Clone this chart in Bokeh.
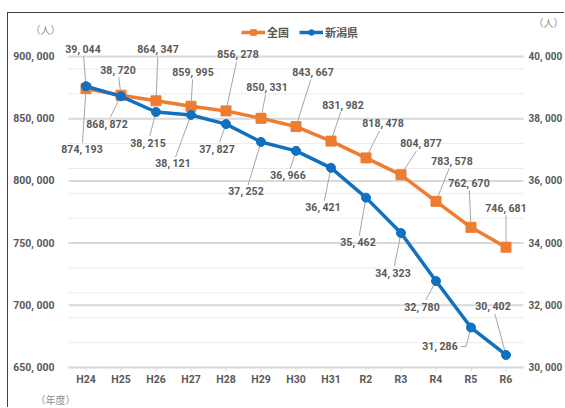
from bokeh.plotting import figure
from bokeh.models import Range1d, Legend, LegendItem, ColumnDataSource
from bokeh.core.properties import value
from bokeh.embed import file_html
from bokeh.resources import INLINE

years = ["H24", "H25", "H26", "H27", "H28", "H29", "H30", "H31", "R2", "R3", "R4", "R5", "R6"]
zenkoku = [874193, 868872, 864347, 859995, 856278, 850331, 843667, 831982,
           818478, 804877, 783578, 762670, 746681]
niigata = [39044, 38720, 38215, 38121, 37827, 37252, 36966, 36421,
           35462, 34323, 32780, 31286, 30402]
left_ticks = [650000, 700000, 750000, 800000, 850000, 900000]
left_minor = [650000 + 20000 * k for k in range(13)]
right_ticks = [30000, 32000, 34000, 36000, 38000, 40000]
series_names = ["全国", "新潟県"]
unit_label = "（人）"
year_label = "（年度）"

# label placement offsets in pixels (right, down) from each point
zen_off = [(-4, 61), (-14, 29), (2, -51), (2, -34), (12, -56), (6, -31), (17, -54),
           (12, -36), (17, -34), (20, -31), (16, -40), (-2, -44), (0, -39)]
nii_off = [(-3, -37), (-3, -26), (-8, 31), (-18, 49), (-9, 25), (-15, 50), (-8, 25),
           (-8, 40), (-8, 45), (-8, 40), (-14, 26), (-31, 19), (-13, -48)]
# optional elbow points of leader lines (pixel offsets from the point)
nii_elbow = {11: (-5, 19)}

FONT = "Roboto"
JFONT = "Noto Sans CJK JP"
GRAY = "#595959"
LGRAY = "#8c8c8c"
ORANGE = "#ED7D31"
BLUE = "#1170C0"

# geometry (canvas pixels)
W, H = 557, 395
PL, PT = 60, 43          # plot area left / top
PW, PH = 455, 311        # plot area size
N = len(years)
L0, L1 = left_ticks[0], left_ticks[-1]
R0, R1 = right_ticks[0], right_ticks[-1]
CW = PW / N              # px per category
LU = (L1 - L0) / PH      # left-axis units per px
RU = (R1 - R0) / PH      # right-axis units per px

xr = Range1d(-0.5 - PL / CW, -0.5 + (W - PL) / CW)
yr = Range1d(L1 - (H - PT) * LU, L1 + PT * LU)
rr = Range1d(R1 - (H - PT) * RU, R1 + PT * RU)

p = figure(width=W, height=H, output_backend="svg", toolbar_location=None,
           x_range=xr, y_range=yr, min_border=0, outline_line_color=None)
p.styles = {"border-top": "1px solid #404040", "border-left": "1px solid #404040",
            "margin-top": "12px", "margin-left": "7px"}
p.extra_y_ranges = {"r": rr}
p.xaxis.visible = False
p.yaxis.visible = False
p.grid.visible = False

X0, X1 = -0.5, N - 0.5

# gridlines
p.segment(x0=X0, x1=X1, y0=left_minor, y1=left_minor, line_color="#ebebeb", line_width=1)
p.segment(x0=X0, x1=X1, y0=left_ticks, y1=left_ticks, line_color="#d9d9d9", line_width=2)
# category tick marks
xs = list(range(N))
p.segment(x0=xs, x1=xs, y0=[L0] * N, y1=[L0 - 4 * LU] * N, line_color="#d9d9d9", line_width=1)


def txt(x, y, t, align="center", font=FONT, size="10.5px", color=GRAY, bold=True, rn="default"):
    p.text(x=x, y=y, text=t, text_align=align, text_baseline="middle",
           text_font=value(font), text_font_size=size, text_color=color,
           text_font_style="bold" if bold else "normal", y_range_name=rn)


def fmt(v):
    return f"{v:,}".replace(",", ", ")


# axis tick labels
txt(xs, [L0 - 12 * LU] * N, years)
txt([X0 - 14 / CW] * len(left_ticks), left_ticks, [fmt(t) for t in left_ticks], align="right")
txt([X1 + 5 / CW] * len(right_ticks), right_ticks, [fmt(t) for t in right_ticks],
    align="left", rn="r", size="10px")
# unit labels
txt([X0 - 23 / CW], [L1 + 27 * LU], [unit_label], font=JFONT, size="10px", color=LGRAY, bold=False)
txt([X1 + 10 / CW], [L1 + 34 * LU], [unit_label], align="left", font=JFONT, size="10px",
    color=LGRAY, bold=False)
txt([X0 - 13 / CW], [L0 - 32 * LU], [year_label], font=JFONT, size="10px", color=LGRAY, bold=False)


def label_geom(vals, offs, per_px, elbows):
    d = dict(xs=[], ys=[], lx=[], ly=[], t=[])
    hw, hh = 20, 7
    for i, (v, (dx, dy)) in enumerate(zip(vals, offs)):
        s = min(hw / abs(dx) if dx else 1e9, hh / abs(dy) if dy else 1e9)
        if i in elbows:
            ex, ey = dx + hw + 1, dy
            path = [(0, 0), elbows[i], (ex, ey)]
        else:
            ex, ey = dx * (1 - s), dy * (1 - s)
            path = [(0, 0), (ex, ey)]
        d["xs"].append([i + a / CW for a, b in path])
        d["ys"].append([v - b * per_px for a, b in path])
        d["lx"].append(i + dx / CW)
        d["ly"].append(v - dy * per_px)
        d["t"].append(fmt(v))
    return ColumnDataSource(d)


zsrc = label_geom(zenkoku, zen_off, LU, {})
nsrc = label_geom(niigata, nii_off, RU, nii_elbow)
p.multi_line(xs="xs", ys="ys", source=zsrc, line_color="#a6a6a6", line_width=1)
p.multi_line(xs="xs", ys="ys", source=nsrc, line_color="#a6a6a6", line_width=1,
             y_range_name="r")

zl_r = p.line(xs, zenkoku, line_color=ORANGE, line_width=3.5)
zs_r = p.scatter(xs, zenkoku, marker="square", size=10, fill_color=ORANGE, line_color=ORANGE)
nl_r = p.line(xs, niigata, line_color=BLUE, line_width=3.5, y_range_name="r")
ns_r = p.scatter(xs, niigata, marker="circle", size=9, fill_color=BLUE, line_color=BLUE,
                 y_range_name="r")

for src, rn in ((zsrc, "default"), (nsrc, "r")):
    p.text(x="lx", y="ly", text="t", source=src, y_range_name=rn,
           text_align="center", text_baseline="middle", text_font=value(FONT),
           text_font_style="bold", text_font_size="10.5px", text_color=GRAY)

legend = Legend(items=[LegendItem(label=series_names[0], renderers=[zl_r, zs_r]),
                       LegendItem(label=series_names[1], renderers=[nl_r, ns_r])],
                orientation="horizontal", location=(233, 368),
                padding=0, margin=0, spacing=10, glyph_width=24, glyph_height=14,
                label_height=14, label_standoff=2, border_line_color=None,
                background_fill_alpha=0, label_text_font=JFONT,
                label_text_font_style="bold", label_text_font_size="11px",
                label_text_color=GRAY)
p.add_layout(legend, "center")

open("out.html", "w").write(file_html(p, INLINE))
